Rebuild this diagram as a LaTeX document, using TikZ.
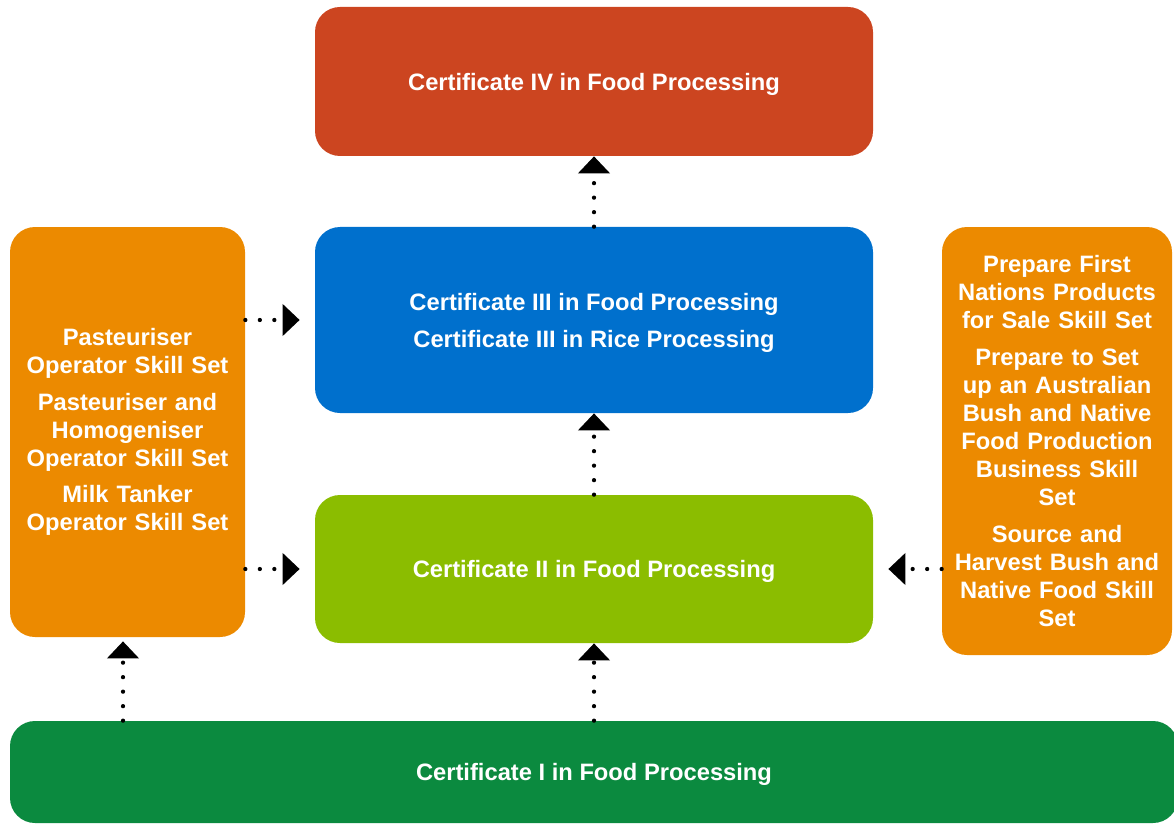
\documentclass[tikz,border=0pt]{standalone}
\usepackage{fontspec}
\setmainfont{Liberation Sans}
\usepackage{tikz}
\usetikzlibrary{arrows.meta,calc}
\definecolor{certred}{HTML}{CC4520}
\definecolor{certblue}{HTML}{0070CD}
\definecolor{certlime}{HTML}{8BBD00}
\definecolor{certgreen}{HTML}{0B8A3F}
\definecolor{skillorange}{HTML}{EC8A00}
\tikzstyle{roundbox}=[rounded corners=0.5cm, inner sep=0pt, text=white, align=center, font=\bfseries\fontsize{13.5}{15.9}\selectfont]
\tikzstyle{certbox}=[roundbox, text depth=0pt, minimum width=11.16cm]
\tikzstyle{skillbox}=[roundbox, fill=skillorange, text width=4.5cm]
\tikzstyle{dotarrow}=[line width=0.085cm, line cap=round, dash pattern=on 0pt off 0.29cm, -{Triangle[width=0.62cm,length=0.34cm,line cap=butt,line join=miter]}]
\newcommand{\gap}{\\[5.1pt]}

\begin{document}
\begin{tikzpicture}
 \useasboundingbox (0,0) rectangle (23.48,16.5);
%
 \node[certbox, fill=certred, minimum height=2.98cm] (cfour) at (11.88,14.87) {Certificate IV in Food Processing};
 \node[certbox, fill=certblue, minimum height=3.72cm] (cthree) at (11.88,10.10) {Certificate III in Food Processing\gap Certificate III in Rice Processing};
 \node[certbox, fill=certlime, minimum height=2.96cm] (ctwo) at (11.88,5.12) {Certificate II in Food Processing};
 \node[certbox, fill=certgreen, minimum width=23.36cm, minimum height=2.04cm] (cone) at (11.88,1.06) {Certificate I in Food Processing};
%
 \node[skillbox, minimum width=4.7cm, minimum height=8.2cm] (dairy) at (2.55,7.86) {Pasteuriser\\Operator Skill Set\gap Pasteuriser and\\Homogeniser\\Operator Skill Set\gap Milk Tanker\\Operator Skill Set};
 \node[skillbox, minimum width=4.6cm, minimum height=8.56cm] (bush) at (21.14,7.68) {Prepare First\\Nations Products\\for Sale Skill Set\gap Prepare to Set\\up an Australian\\Bush and Native\\Food Production\\Business Skill\\Set\gap Source and\\Harvest Bush and\\Native Food Skill\\Set};
%
 \draw[dotarrow] (cthree.north) -- (cfour.south);
 \draw[dotarrow] (ctwo.north) -- (cthree.south);
 \draw[dotarrow] (cone.north) -- (ctwo.south);
 \draw[dotarrow, shorten >=0.08cm] ([xshift=-0.09cm]cone.north -| dairy.south) -- ([xshift=-0.09cm]dairy.south);
%
 \draw[dotarrow, shorten >=0.3cm] (dairy.east |- cthree.west) -- (cthree.west);
 \draw[dotarrow, shorten >=0.3cm] (dairy.east |- ctwo.west) -- (ctwo.west);
 \draw[dotarrow, shorten >=0.3cm] (bush.west |- ctwo.east) -- (ctwo.east);
\end{tikzpicture}
\end{document}
